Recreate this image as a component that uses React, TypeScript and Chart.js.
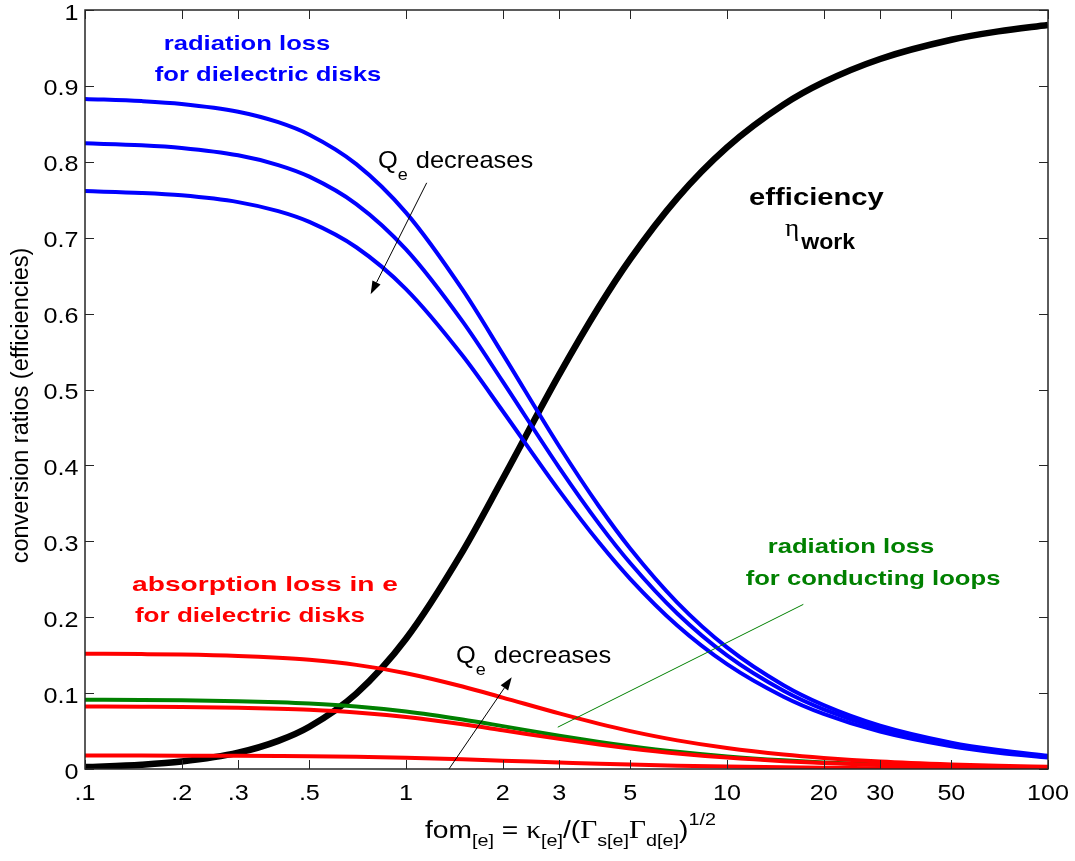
import React, { useEffect, useRef } from "react";
import { Chart, registerables } from "chart.js";

Chart.register(...registerables);

// ---------------- data ----------------
const fomValues = [0.1, 0.15, 0.2, 0.3, 0.4, 0.5, 0.7, 1, 1.5, 2, 3, 4, 5, 7, 10, 15, 20, 30, 50, 70, 100];

const efficiencyWork = [0.0025, 0.0056, 0.0098, 0.0215, 0.0371, 0.0557, 0.0994, 0.1716, 0.2864, 0.382, 0.5195, 0.6096, 0.6721, 0.7522, 0.819, 0.8753, 0.9049, 0.9355, 0.9608, 0.9718, 0.9802];

const radDiskHighQ = [0.8828, 0.88, 0.8763, 0.866, 0.8522, 0.8357, 0.797, 0.7331, 0.6315, 0.5469, 0.4252, 0.3455, 0.2902, 0.2193, 0.1602, 0.1104, 0.0842, 0.0571, 0.0347, 0.025, 0.0175];
const radDiskMidQ = [0.8243, 0.8218, 0.8183, 0.8086, 0.7957, 0.7804, 0.7443, 0.6846, 0.5897, 0.5107, 0.3971, 0.3226, 0.271, 0.2048, 0.1496, 0.1031, 0.0786, 0.0533, 0.0324, 0.0233, 0.0164];
const radDiskLowQ = [0.7614, 0.759, 0.7558, 0.7469, 0.735, 0.7208, 0.6874, 0.6323, 0.5447, 0.4717, 0.3668, 0.298, 0.2503, 0.1891, 0.1382, 0.0953, 0.0726, 0.0492, 0.0299, 0.0215, 0.0151];

const absDiskLowQ = [0.1519, 0.1514, 0.1508, 0.149, 0.1466, 0.1438, 0.1372, 0.1262, 0.1087, 0.0941, 0.0732, 0.0595, 0.0499, 0.0377, 0.0276, 0.019, 0.0145, 0.0098, 0.006, 0.0043, 0.003];
const absDiskMidQ = [0.0824, 0.0821, 0.0818, 0.0808, 0.0795, 0.078, 0.0744, 0.0684, 0.0589, 0.051, 0.0397, 0.0322, 0.0271, 0.0205, 0.015, 0.0103, 0.0079, 0.0053, 0.0032, 0.0023, 0.0016];
const absDiskHighQ = [0.0178, 0.0177, 0.0176, 0.0174, 0.0171, 0.0168, 0.016, 0.0147, 0.0127, 0.011, 0.0086, 0.0069, 0.0058, 0.0044, 0.0032, 0.0022, 0.0017, 0.0011, 0.0007, 0.0005, 0.0004];

const radLoops = [0.0912, 0.0909, 0.0905, 0.0894, 0.088, 0.0863, 0.0823, 0.0757, 0.0652, 0.0565, 0.0439, 0.0357, 0.03, 0.0226, 0.0165, 0.0114, 0.0087, 0.0059, 0.0036, 0.0026, 0.0018];

const xTickValues = [0.1, 0.2, 0.3, 0.5, 1, 2, 3, 5, 10, 20, 30, 50, 100];
const xTickLabels = [".1", ".2", ".3", ".5", "1", "2", "3", "5", "10", "20", "30", "50", "100"];
const yTickValues = [0, 0.1, 0.2, 0.3, 0.4, 0.5, 0.6, 0.7, 0.8, 0.9, 1];
const yTickLabels = ["0", "0.1", "0.2", "0.3", "0.4", "0.5", "0.6", "0.7", "0.8", "0.9", "1"];

const yTitle = "conversion ratios (efficiencies)";

// annotation anchors, in data units (x = fom, y = ratio)
const curveLabels = [
  { text: "radiation loss", x: 0.3197, y: 0.9473, color: "#0000ff", sx: 1.22 },
  { text: "for dielectric disks", x: 0.3716, y: 0.9064, color: "#0000ff", sx: 1.22 },
  { text: "absorption loss in e", x: 0.3637, y: 0.234, color: "#ff0000", sx: 1.34 },
  { text: "for dielectric disks", x: 0.3266, y: 0.1931, color: "#ff0000", sx: 1.24 },
  { text: "radiation loss", x: 24.34, y: 0.2841, color: "#008000", sx: 1.22 },
  { text: "for conducting loops", x: 28.5, y: 0.2419, color: "#008000", sx: 1.22 },
];
const effLabel = { text: "efficiency", x: 19.0, y: 0.7429 };
const etaLabel = { x: 15.16, y: 0.702 };
const qLabels = [
  { x: 0.818, y: 0.7917 },
  { x: 1.431, y: 0.1395 },
];
const arrows = [
  { x1: 1.16, y1: 0.7723, x2: 0.776, y2: 0.6256 },
  { x1: 1.361, y1: 0, x2: 2.135, y2: 0.121 },
];
const pointerLine = { x1: 2.97, y1: 0.0551, x2: 17.29, y2: 0.2169 };

// ---------------- drawing helpers ----------------
const SANS = '"Liberation Sans", Arial, Helvetica, sans-serif';
const SERIF = '"Liberation Serif", "DejaVu Serif", "Times New Roman", serif';

function stretchText(
  ctx: CanvasRenderingContext2D,
  text: string,
  x: number,
  y: number,
  font: string,
  color: string,
  sx: number,
  align: "left" | "center" | "right" = "left"
): number {
  ctx.save();
  ctx.font = font;
  ctx.fillStyle = color;
  ctx.textBaseline = "alphabetic";
  ctx.textAlign = "left";
  const w = ctx.measureText(text).width * sx;
  let left = x;
  if (align === "center") left = x - w / 2;
  else if (align === "right") left = x - w;
  ctx.translate(left, y);
  ctx.scale(sx, 1);
  ctx.fillText(text, 0, 0);
  ctx.restore();
  return w;
}

function drawArrow(ctx: CanvasRenderingContext2D, x1: number, y1: number, x2: number, y2: number) {
  const ang = Math.atan2(y2 - y1, x2 - x1);
  const hl = 13;
  const hw = 4.5;
  const bx = x2 - hl * Math.cos(ang);
  const by = y2 - hl * Math.sin(ang);
  ctx.beginPath();
  ctx.moveTo(x1, y1);
  ctx.lineTo(bx, by);
  ctx.stroke();
  ctx.beginPath();
  ctx.moveTo(x2, y2);
  ctx.lineTo(bx + hw * Math.sin(ang), by - hw * Math.cos(ang));
  ctx.lineTo(bx - hw * Math.sin(ang), by + hw * Math.cos(ang));
  ctx.closePath();
  ctx.fill();
}

const overlayPlugin = {
  id: "matlabOverlay",
  afterDraw(chart: any) {
    const ctx: CanvasRenderingContext2D = chart.ctx;
    const a = chart.chartArea;
    const xs = chart.scales.x;
    const ys = chart.scales.y;
    const px = (v: number) => xs.getPixelForValue(v);
    const py = (v: number) => ys.getPixelForValue(v);

    ctx.save();
    // frame
    ctx.strokeStyle = "#262626";
    ctx.lineWidth = 1.5;
    ctx.strokeRect(a.left, a.top, a.right - a.left, a.bottom - a.top);

    // inward ticks
    ctx.lineWidth = 1;
    const tl = 9;
    ctx.beginPath();
    xTickValues.forEach((v) => {
      const x = Math.round(px(v)) + 0.5;
      ctx.moveTo(x, a.bottom);
      ctx.lineTo(x, a.bottom - tl);
      ctx.moveTo(x, a.top);
      ctx.lineTo(x, a.top + tl);
    });
    yTickValues.forEach((v) => {
      const y = Math.round(py(v)) + 0.5;
      ctx.moveTo(a.left, y);
      ctx.lineTo(a.left + tl, y);
      ctx.moveTo(a.right, y);
      ctx.lineTo(a.right - tl, y);
    });
    ctx.stroke();

    // tick labels
    const tickFont = `21.5px ${SANS}`;
    xTickValues.forEach((v, i) => {
      stretchText(ctx, xTickLabels[i], px(v), a.bottom + 30.5, tickFont, "#000", 1.17, "center");
    });
    yTickValues.forEach((v, i) => {
      stretchText(ctx, yTickLabels[i], a.left - 6.5, py(v) + 9.5, tickFont, "#000", 1.17, "right");
    });

    // y title
    ctx.save();
    ctx.translate(28, (a.top + a.bottom) / 2 + 16);
    ctx.rotate(-Math.PI / 2);
    ctx.font = `23.5px ${SANS}`;
    ctx.fillStyle = "#000";
    ctx.textAlign = "center";
    ctx.textBaseline = "alphabetic";
    ctx.fillText(yTitle, 0, 0);
    ctx.restore();

    // x title with sub/superscripts
    const big = `23.5px ${SANS}`;
    const small = `16.5px ${SANS}`;
    const greek = `24.5px ${SERIF}`;
    const segs: { t: string; f: string; dy: number }[] = [
      { t: "fom", f: big, dy: 0 },
      { t: "[e]", f: small, dy: 8 },
      { t: " = ", f: big, dy: 0 },
      { t: "\u03BA", f: greek, dy: 0 },
      { t: "[e]", f: small, dy: 8 },
      { t: "/(", f: big, dy: 0 },
      { t: "\u0393", f: greek, dy: 0 },
      { t: "s[e]", f: small, dy: 8 },
      { t: "\u0393", f: greek, dy: 0 },
      { t: "d[e]", f: small, dy: 8 },
      { t: ")", f: big, dy: 0 },
      { t: "1/2", f: small, dy: -13 },
    ];
    const sxT = 1.2;
    let total = 0;
    segs.forEach((s) => {
      ctx.font = s.f;
      total += ctx.measureText(s.t).width * sxT;
    });
    let cx = (a.left + a.right) / 2 + 4 - total / 2;
    const base = a.bottom + 68.5;
    segs.forEach((s) => {
      cx += stretchText(ctx, s.t, cx, base + s.dy, s.f, "#000", sxT, "left");
    });

    // curve labels
    curveLabels.forEach((l) => {
      stretchText(ctx, l.text, px(l.x), py(l.y), `bold 21px ${SANS}`, l.color, l.sx, "center");
    });

    // efficiency label
    stretchText(ctx, effLabel.text, px(effLabel.x), py(effLabel.y), `bold 23px ${SANS}`, "#000", 1.27, "center");
    const ex = px(etaLabel.x);
    const ey = py(etaLabel.y);
    const ew = stretchText(ctx, "\u03B7", ex, ey, `26px ${SERIF}`, "#000", 1.05, "left");
    stretchText(ctx, "work", ex + ew + 2, ey + 13, `bold 22px ${SANS}`, "#000", 1.05, "left");

    // Q_e decreases labels
    qLabels.forEach((q) => {
      const qx = px(q.x);
      const qy = py(q.y);
      const w = stretchText(ctx, "Q", qx, qy, `24px ${SANS}`, "#000", 1.06, "left");
      const ew2 = stretchText(ctx, "e", qx + w, qy + 12, `17px ${SANS}`, "#000", 1.06, "left");
      stretchText(ctx, "decreases", qx + w + ew2 + 8, qy, `24px ${SANS}`, "#000", 1.06, "left");
    });

    // arrows
    ctx.strokeStyle = "#000";
    ctx.fillStyle = "#000";
    ctx.lineWidth = 1;
    arrows.forEach((ar) => drawArrow(ctx, px(ar.x1), py(ar.y1), px(ar.x2), py(ar.y2)));

    // pointer line for the loops label
    ctx.strokeStyle = "#008000";
    ctx.lineWidth = 1;
    ctx.beginPath();
    ctx.moveTo(px(pointerLine.x1), py(pointerLine.y1));
    ctx.lineTo(px(pointerLine.x2), py(pointerLine.y2));
    ctx.stroke();

    ctx.restore();
  },
};

const pts = (ys: number[]) => fomValues.map((x, i) => ({ x, y: ys[i] }));

function line(label: string, ys: number[], color: string, width: number) {
  return {
    label,
    data: pts(ys),
    borderColor: color,
    backgroundColor: color,
    borderWidth: width,
    pointRadius: 0,
    fill: false,
    cubicInterpolationMode: "monotone" as const,
    borderJoinStyle: "round" as const,
  };
}

export default function App() {
  const ref = useRef<HTMLCanvasElement>(null);

  useEffect(() => {
    if (!ref.current) return;
    const chart = new Chart(ref.current, {
      type: "line",
      data: {
        datasets: [
          line("absorption loss, high Qe", absDiskHighQ, "#ff0000", 4),
          line("absorption loss, mid Qe", absDiskMidQ, "#ff0000", 4),
          line("absorption loss, low Qe", absDiskLowQ, "#ff0000", 4),
          line("radiation loss, conducting loops", radLoops, "#008000", 4),
          line("radiation loss, high Qe", radDiskHighQ, "#0000ff", 4),
          line("radiation loss, mid Qe", radDiskMidQ, "#0000ff", 4),
          line("radiation loss, low Qe", radDiskLowQ, "#0000ff", 4),
          line("efficiency eta_work", efficiencyWork, "#000000", 6.5),
        ] as any,
      },
      options: {
        animation: false,
        responsive: false,
        events: [],
        layout: { padding: { left: 85, right: 27, top: 10, bottom: 92 } },
        plugins: { legend: { display: false }, tooltip: { enabled: false } },
        scales: {
          x: { type: "logarithmic", min: 0.1, max: 100, display: false },
          y: { type: "linear", min: 0, max: 1, display: false },
        },
      },
      plugins: [overlayPlugin],
    });
    return () => chart.destroy();
  }, []);

  return (
    <div style={{ position: "absolute", left: 0, top: 0, width: 1075, height: 861 }}>
      <canvas ref={ref} width={1075} height={861} style={{ display: "block" }} />
    </div>
  );
}
